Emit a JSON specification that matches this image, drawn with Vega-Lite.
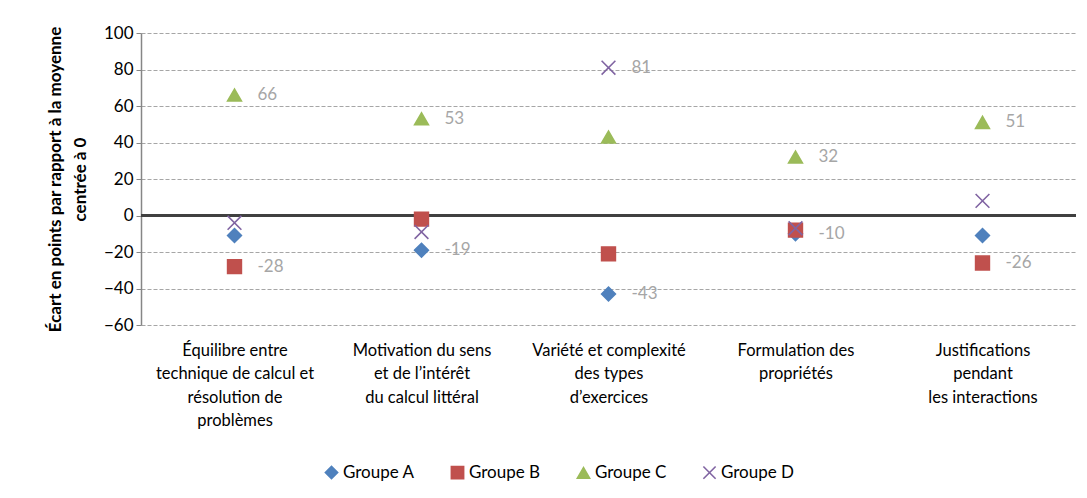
{
  "$schema": "https://vega.github.io/schema/vega-lite/v6.json",
  "width": 935,
  "height": 292,
  "autosize": {"type": "none"},
  "padding": {"left": 141, "top": 33, "right": 11, "bottom": 173},
  "background": "white",
  "config": {
    "font": "Lato",
    "view": {"stroke": null}
  },
  "data": {
    "values": [
      {"cat": "Équilibre entre|technique de calcul et|résolution de|problèmes", "group": "Groupe A", "value": -11, "label": null},
      {"cat": "Équilibre entre|technique de calcul et|résolution de|problèmes", "group": "Groupe B", "value": -28, "label": "-28"},
      {"cat": "Équilibre entre|technique de calcul et|résolution de|problèmes", "group": "Groupe C", "value": 66, "label": "66"},
      {"cat": "Équilibre entre|technique de calcul et|résolution de|problèmes", "group": "Groupe D", "value": -4, "label": null},
      {"cat": "Motivation du sens|et de l’intérêt|du calcul littéral", "group": "Groupe A", "value": -19, "label": "-19"},
      {"cat": "Motivation du sens|et de l’intérêt|du calcul littéral", "group": "Groupe B", "value": -2, "label": null},
      {"cat": "Motivation du sens|et de l’intérêt|du calcul littéral", "group": "Groupe C", "value": 53, "label": "53"},
      {"cat": "Motivation du sens|et de l’intérêt|du calcul littéral", "group": "Groupe D", "value": -9, "label": null},
      {"cat": "Variété et complexité|des types|d’exercices", "group": "Groupe A", "value": -43, "label": "-43"},
      {"cat": "Variété et complexité|des types|d’exercices", "group": "Groupe B", "value": -21, "label": null},
      {"cat": "Variété et complexité|des types|d’exercices", "group": "Groupe C", "value": 43, "label": null},
      {"cat": "Variété et complexité|des types|d’exercices", "group": "Groupe D", "value": 81, "label": "81"},
      {"cat": "Formulation des|propriétés", "group": "Groupe A", "value": -10, "label": "-10"},
      {"cat": "Formulation des|propriétés", "group": "Groupe B", "value": -8, "label": null},
      {"cat": "Formulation des|propriétés", "group": "Groupe C", "value": 32, "label": "32"},
      {"cat": "Formulation des|propriétés", "group": "Groupe D", "value": -7, "label": null},
      {"cat": "Justifications|pendant|les interactions", "group": "Groupe A", "value": -11, "label": null},
      {"cat": "Justifications|pendant|les interactions", "group": "Groupe B", "value": -26, "label": "-26"},
      {"cat": "Justifications|pendant|les interactions", "group": "Groupe C", "value": 51, "label": "51"},
      {"cat": "Justifications|pendant|les interactions", "group": "Groupe D", "value": 8, "label": null}
    ]
  },
  "encoding": {
    "x": {
      "field": "cat", "type": "nominal", "sort": null,
      "scale": {"paddingInner": 0, "paddingOuter": 0},
      "axis": {
        "title": null, "labelAngle": 0, "domain": false, "ticks": false, "grid": false,
        "labelExpr": "split(datum.label, '|')",
        "labelFontSize": 16.5, "labelColor": "#000000", "labelLineHeight": 23.5,
        "labelPadding": 17, "labelLimit": 250, "labelBaseline": "top"
      }
    },
    "y": {
      "field": "value", "type": "quantitative",
      "scale": {"domain": [-60, 100], "nice": false, "zero": false},
      "axis": {
        "values": [-60, -40, -20, 0, 20, 40, 60, 80, 100],
        "title": ["Écart en points par rapport à la moyenne", "centrée à 0"],
        "titleFontSize": 17, "titleFontWeight": "bold", "titleColor": "#000000",
        "titleLineHeight": 25, "titlePadding": 14,
        "labelFontSize": 17, "labelColor": "#000000", "labelPadding": 3,
        "domainColor": "#868686", "domainWidth": 1.5,
        "tickColor": "#868686", "tickSize": 5,
        "gridColor": "#a6a6a6", "gridDash": [4, 2], "gridWidth": 1.2
      }
    }
  },
  "layer": [
    {
      "mark": {"type": "rule", "color": "#404040", "strokeWidth": 3},
      "encoding": {"y": {"datum": 0}, "x": {"value": 0}, "x2": {"value": 935}}
    },
    {
      "mark": {"type": "point", "filled": true, "opacity": 1, "size": 190, "strokeWidth": 1.6},
      "encoding": {
        "color": {
          "field": "group", "type": "nominal",
          "scale": {"domain": ["Groupe A", "Groupe B", "Groupe C", "Groupe D"], "range": ["#4f81bd", "#c0504d", "#9bbb59", "#8064a2"]},
          "legend": {
            "title": null, "orient": "none", "legendX": 182, "legendY": 431, "direction": "horizontal",
            "labelFontSize": 17, "labelColor": "#000000", "symbolSize": 150,
            "columnPadding": 33, "labelOffset": 3, "symbolStrokeWidth": 1.6
          }
        },
        "stroke": {
          "field": "group", "type": "nominal",
          "scale": {"domain": ["Groupe A", "Groupe B", "Groupe C", "Groupe D"], "range": ["#4f81bd", "#c0504d", "#9bbb59", "#8064a2"]},
          "legend": null
        },
        "shape": {
          "field": "group", "type": "nominal",
          "scale": {"domain": ["Groupe A", "Groupe B", "Groupe C", "Groupe D"], "range": ["diamond", "square", "triangle-up", "M-1,-1L1,1M-1,1L1,-1"]},
          "legend": null
        }
      }
    },
    {
      "transform": [{"filter": "datum.label != null"}],
      "mark": {"type": "text", "align": "left", "baseline": "middle", "dx": 23, "fontSize": 17, "color": "#a6a6a6"},
      "encoding": {"text": {"field": "label"}}
    }
  ]
}
